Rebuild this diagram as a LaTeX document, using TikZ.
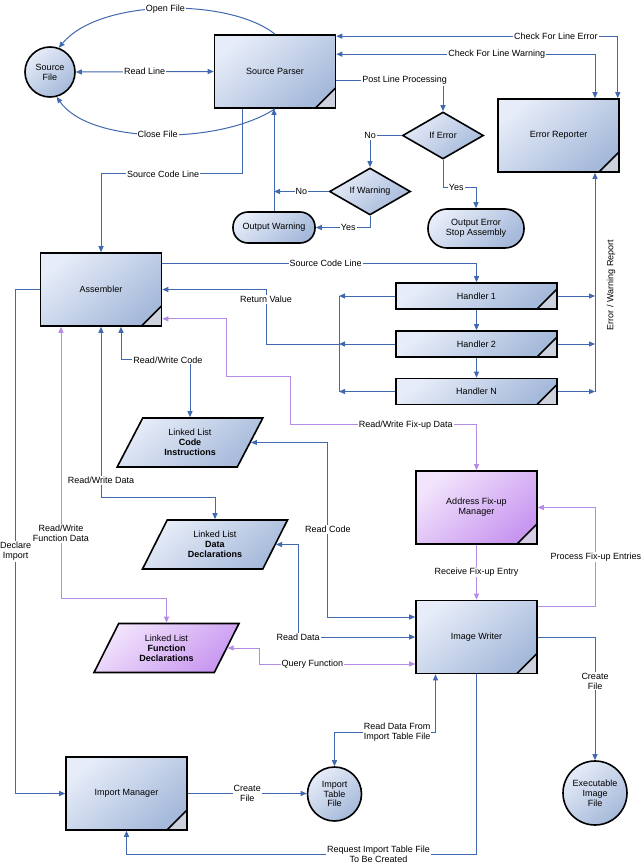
\documentclass[tikz,border=0pt]{standalone}
\usepackage{fontspec}
\setmainfont{Liberation Sans}
\usetikzlibrary{arrows.meta,positioning,calc,shapes.geometric}
\definecolor{flowblue}{RGB}{65,105,175}
\definecolor{fixpurple}{RGB}{180,140,230}
\definecolor{boxlight}{RGB}{230,236,248}
\definecolor{boxdark}{RGB}{165,185,218}
\definecolor{purplelight}{RGB}{242,228,252}
\definecolor{purpledark}{RGB}{200,150,240}
\definecolor{foldgrey}{RGB}{205,210,222}
\definecolor{foldpurple}{RGB}{215,205,230}

\begin{document}
\begin{tikzpicture}[x=1pt,y=-1pt,font=\fontsize{9}{9.9}\selectfont,
  blueshade/.style={top color=boxlight,bottom color=boxdark,shading angle=40},
  purpleshade/.style={top color=purplelight,bottom color=purpledark,shading angle=40},
  proc/.style={draw=black,line width=1.6pt,blueshade,minimum width=121pt,minimum height=73pt,align=center,
    path picture={\fill[#1] ([xshift=-20pt]path picture bounding box.south east) -- ([yshift=20pt]path picture bounding box.south east) -- (path picture bounding box.south east) -- cycle;
      \draw[black,line width=1.6pt] ([xshift=-20pt]path picture bounding box.south east) -- ([yshift=20pt]path picture bounding box.south east);}},
  proc/.default=foldgrey,
  handler/.style={proc,minimum width=161pt,minimum height=26pt},
  decision/.style={diamond,aspect=1.7,draw=black,line width=1.6pt,blueshade,minimum width=81pt,minimum height=47pt,inner sep=0pt},
  term/.style={rectangle,rounded corners=15pt,draw=black,line width=1.6pt,blueshade,align=center},
  listbox/.style={trapezium,trapezium left angle=63,trapezium right angle=117,trapezium stretches=true,draw=black,line width=1.6pt,blueshade,minimum width=146pt,minimum height=49pt,align=center,inner sep=1pt},
  filenode/.style={circle,draw=black,line width=1.6pt,blueshade,align=center,inner sep=0pt},
  flow/.style={draw=flowblue,line width=1pt,-{Triangle[length=6pt,width=5pt]}},
  fixflow/.style={flow,draw=fixpurple},
  twoway/.style={{Triangle[length=6pt,width=5pt]}-{Triangle[length=6pt,width=5pt]}},
  bus/.style={draw=flowblue,line width=1pt},
  lbl/.style={fill=white,inner sep=1pt,align=center,text=black}]
\fill[white] (0,0) rectangle (640,864);
\useasboundingbox (0,0) rectangle (640,864);

% nodes
\node[filenode,minimum size=50pt] (srcfile) at (50,72) {Source\\File};
\node[proc] (parser) at (275,71.5) {Source Parser};
\node[proc] (errrep) at (558.5,135.5) {Error Reporter};
\node[decision] (iferr) at (443,135.5) {If Error};
\node[decision] (ifwarn) at (370,191.5) {If Warning};
\node[term,minimum width=82pt,minimum height=31pt] (outwarn) at (274,227.5) {Output Warning};
\node[term,minimum width=96pt,minimum height=39pt,rounded corners=19pt] (outerr) at (476,228.5) {Output Error\\Stop Assembly};
\node[proc] (asm) at (101,289.5) {Assembler};
\node[handler] (h1) at (476.5,296) {Handler 1};
\node[handler] (h2) at (476.5,344) {Handler 2};
\node[handler] (hN) at (476.5,391.5) {Handler N};
\node[listbox] (code) at (190,442.5) {Linked List\\\textbf{Code}\\\textbf{Instructions}};
\node[listbox] (data) at (215,544.5) {Linked List\\\textbf{Data}\\\textbf{Declarations}};
\node[listbox,purpleshade] (func) at (166.5,648) {Linked List\\\textbf{Function}\\\textbf{Declarations}};
\node[proc=foldpurple,purpleshade] (fixup) at (476.5,507.5) {Address Fix-up\\Manager};
\node[proc] (writer) at (476.5,637) {Image Writer};
\node[proc] (impmgr) at (126.5,793.5) {Import Manager};
\node[filenode,minimum size=54pt] (imptab) at (334.5,794) {Import\\Table\\File};
\node[filenode,minimum size=64pt] (exefile) at (595,793) {Executable\\Image\\File};

% source file
\draw[flow] (parser.north) .. controls (230,-2) and (100,-2) .. node[lbl]{Open File} (srcfile.70);
\draw[flow,twoway] (srcfile.east) -- node[lbl]{Read Line} (parser.west);
\draw[flow] (parser.south) .. controls (220,145) and (90,145) .. node[lbl]{Close File} (srcfile.-75);

% error checks
\draw[flow,twoway] ([yshift=-2pt]parser.north east) -| node[lbl,pos=0.39]{Check For Line Error} ([xshift=-2pt]errrep.north east);
\draw[flow,twoway] ([yshift=-20pt]parser.north east) -| node[lbl,pos=0.31]{Check For Line Warning} ([xshift=36.5pt]errrep.north);
\draw[flow] ([yshift=-9pt]parser.east) -| node[lbl,pos=0.32]{Post Line Processing} (iferr.north);
\draw[flow] (iferr.west) -| node[lbl,pos=0.5]{No} (ifwarn.north);
\draw[flow] (iferr.south) -- ++(0,28) -| node[lbl,pos=0.2]{Yes} (outerr.north);
\draw[flow] (ifwarn.west) -- node[lbl]{No} (ifwarn.west -| outwarn.north);
\draw[flow] (ifwarn.south) |- node[lbl,pos=0.7]{Yes} (outwarn.east);
\draw[flow] (outwarn.north) -- (outwarn.north |- parser.south);
\draw[flow] ([xshift=-33pt]parser.south) -- ++(0,65) -| node[lbl,pos=0.28]{Source Code Line} (asm.north);

% handlers
\draw[flow] ([yshift=-11pt]asm.north east) -| node[lbl,pos=0.26]{Source Code Line} (h1.north);
\draw[flow] (h1) -- (h2);
\draw[flow] (h2) -- (hN);
\coordinate (rbus) at (339,344);
\coordinate (ebus) at (595,344);
\foreach \h in {h1,h2,hN}{
  \draw[flow] (\h.west) -- (\h.west -| rbus);
  \draw[flow] (\h.east) -- (\h.east -| ebus);
}
\draw[bus] (h1.west -| rbus) -- (hN.west -| rbus);
\draw[flow] (rbus) -- ++(-73,0) |- node[lbl,pos=0.41]{Return Value} (asm.east);
\draw[flow] (hN.east -| ebus) -- (errrep.south -| ebus);
\node[rotate=90] (ewlabel) at (611,285) {Error / Warning Report};

% linked lists
\draw[flow,twoway] ([xshift=20pt]asm.south) -- ++(0,33) -| node[lbl,pos=0.34]{Read/Write Code} (code.north);
\draw[flow,twoway] (asm.south) -- node[lbl,pos=0.9]{Read/Write Data} ++(0,171) -| (data.north);
\draw[fixflow,twoway] ([xshift=-40pt]asm.south) -- node[lbl,pos=0.76]{Read/Write\\Function Data} ++(0,272) -| (func.north);
\draw[fixflow,twoway] ([yshift=8pt]asm.south east) -- ++(64,0) -- ++(0,58) -- ++(64,0) -- ++(0,48) -| node[lbl,pos=0.31]{Read/Write Fix-up Data} (fixup.north);

% image writer
\draw[flow,twoway] (code.east) -- ++(77,0) |- node[lbl,pos=0.25]{Read Code} ([yshift=20pt]writer.west);
\draw[flow,twoway] (data.east) -- ++(22,0) |- node[lbl,pos=0.5]{Read Data} (writer.west);
\draw[fixflow,twoway] (func.east) -- ++(32,0) |- node[lbl,pos=0.67]{Query Function} ([yshift=-27pt]writer.west);
\draw[fixflow] (fixup) -- node[lbl]{Receive Fix-up Entry} (writer);
\draw[fixflow] ([yshift=-7pt]writer.north east) -- ++(58,0) |- node[lbl,pos=0.25]{Process Fix-up Entries} (fixup.east);
\draw[flow] (writer.east) -| node[lbl,pos=0.68]{Create\\File} (exefile.north);
\draw[flow] (writer.south) -- ++(0,180) -| node[lbl,pos=0.14]{Request Import Table File\\To Be Created} (impmgr.south);
\draw[flow,twoway] (imptab.north) -- ++(0,-34) -| node[lbl,pos=0.31]{Read Data From\\Import Table File} ([xshift=-41pt]writer.south);

% import
\draw[flow] (asm.west) -- ++(-24,0) |- node[lbl,pos=0.26]{Declare\\Import} (impmgr.west);
\draw[flow] (impmgr.east) -- node[lbl]{Create\\File} (impmgr.east -| imptab.west);
\end{tikzpicture}
\end{document}
